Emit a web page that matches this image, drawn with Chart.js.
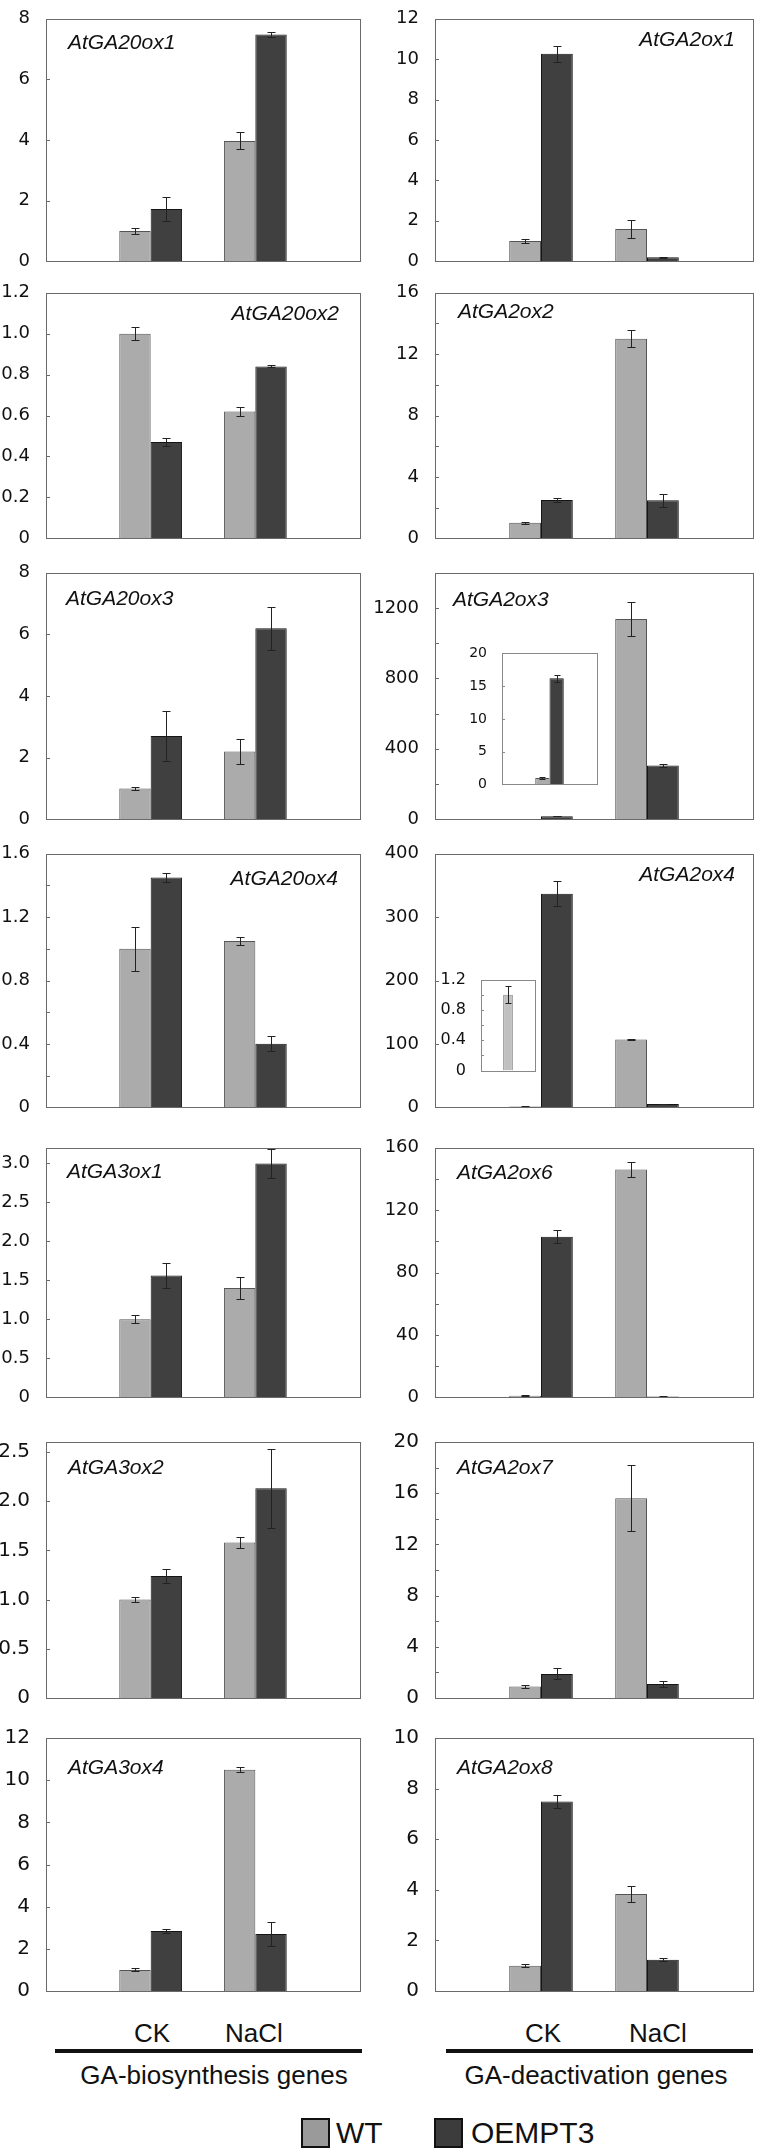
<!DOCTYPE html>
<html>
<head>
<meta charset="utf-8">
<script src="https://cdn.jsdelivr.net/npm/chart.js@4.4.0/dist/chart.umd.min.js"></script>
<style>
  html, body { margin: 0; padding: 0; background: #fff; }
  #page { position: relative; width: 761px; height: 2156px; overflow: hidden;
          font-family: "Liberation Sans", Arial, sans-serif; color: #111; }
  #page canvas { position: absolute; }
  .txt { position: absolute; white-space: nowrap; line-height: 1; text-align: center; }
  .rule { position: absolute; height: 4px; background: #111; }
  .key { position: absolute; width: 25px; height: 26px; border: 2px solid #111; }
</style>
</head>
<body>
<div id="page">
  <div class="txt" style="left:102px; top:2020px; width:100px; font-size:26px;">CK</div>
  <div class="txt" style="left:204px; top:2020px; width:100px; font-size:26px;">NaCl</div>
  <div class="txt" style="left:493px; top:2020px; width:100px; font-size:26px;">CK</div>
  <div class="txt" style="left:608px; top:2020px; width:100px; font-size:26px;">NaCl</div>
  <div class="rule" style="left:55px; top:2049px; width:307px;"></div>
  <div class="rule" style="left:446px; top:2049px; width:307px;"></div>
  <div class="txt" style="left:64px; top:2062px; width:300px; font-size:26px;">GA-biosynthesis genes</div>
  <div class="txt" style="left:446px; top:2062px; width:300px; font-size:26px;">GA-deactivation genes</div>
  <div class="key" style="left:301px; top:2118px; background:#9a9a9a;"></div>
  <div class="txt" style="left:336px; top:2118px; font-size:30px; text-align:left;">WT</div>
  <div class="key" style="left:434px; top:2118px; background:#3c3c3c;"></div>
  <div class="txt" style="left:471px; top:2118px; font-size:30px; text-align:left;">OEMPT3</div>
</div>
<script>
// values (relative expression, mean and error)
const categories = ['CK', 'NaCl'];
const seriesNames = ['WT', 'OEMPT3'];
const genes = ['AtGA20ox1', 'AtGA2ox1', 'AtGA20ox2', 'AtGA2ox2', 'AtGA20ox3', 'AtGA2ox3', 'AtGA20ox4',
               'AtGA2ox4', 'AtGA3ox1', 'AtGA2ox6', 'AtGA3ox2', 'AtGA2ox7', 'AtGA3ox4', 'AtGA2ox8'];
const wtMean = [[1.0, 3.97], [1.0, 1.6], [1.0, 0.62], [1.0, 13.0], [1.0, 2.2], [1.0, 1137], [1.0, 1.05],
                [1.0, 107], [1.0, 1.4], [1.0, 146], [1.0, 1.58], [0.9, 15.6], [1.0, 10.5], [1.0, 3.83]];
const wtErr = [[0.09, 0.28], [0.1, 0.43], [0.033, 0.023], [0.05, 0.55], [0.05, 0.41], [0.15, 95], [0.14, 0.026],
               [0.11, 1], [0.05, 0.145], [0.3, 4.6], [0.025, 0.06], [0.1, 2.57], [0.07, 0.13], [0.05, 0.32]];
const oeMean = [[1.72, 7.48], [10.27, 0.19], [0.47, 0.84], [2.49, 2.48], [2.7, 6.2], [16.2, 305], [1.45, 0.40],
                [337, 5], [1.56, 3.0], [103, 0.5], [1.24, 2.13], [1.88, 1.1], [2.84, 2.7], [7.49, 1.24]];
const oeErr = [[0.4, 0.08], [0.4, 0.03], [0.02, 0.005], [0.12, 0.43], [0.8, 0.7], [0.5, 11], [0.03, 0.047],
               [20, 0.5], [0.16, 0.185], [4.2, 0.3], [0.07, 0.4], [0.43, 0.22], [0.09, 0.56], [0.24, 0.06]];
const yMax = [8, 12, 1.2, 16, 8, 1400, 1.6, 400, 3.2, 160, 2.6, 20, 12, 10];
const yLabelStep = [2, 2, 0.2, 4, 2, 400, 0.4, 100, 0.5, 40, 0.5, 4, 2, 2];
const yTickStep = [2, 2, 0.2, 2, 2, 200, 0.2, 100, 0.5, 20, 0.5, 2, 2, 2];

// insets (CK only, zoomed scale)
const insetPanels = [5, 7];
const insetMax = [20, 1.2];
const insetLabelStep = [5, 0.4];
const insetTickStep = [5, 0.2];
const insetShowOE = [true, false];

// layout
const canvasX = [0, 370];
const canvasW = [380, 391];
const plotLeft = [46, 435];
const plotRight = [360, 753];
const rowTop = [14, 288, 568, 849, 1143, 1436, 1732];
const rowBottom = [270, 547, 828, 1116, 1406, 1708, 2001];
const labelAlign = ['left', 'right', 'right', 'left', 'left', 'left', 'right', 'right', 'left', 'left', 'left', 'left', 'left', 'left'];
const labelDx = [22, 18, 21, 23, 20, 18, 22, 18, 21, 22, 22, 22, 22, 22];
const labelDy = [24, 21, 21, 19, 26, 27, 25, 21, 24, 25, 26, 26, 30, 30];
const insetBox = [[502, 648, 597, 790], [481, 973, 535, 1077]];

const WT_FILL = '#ababab', WT_EDGE = '#555555';
const OE_FILL = '#404040', OE_EDGE = '#151515';

const page = document.getElementById('page');

function addCanvas(left, top, w, h) {
    const c = document.createElement('canvas');
    c.width = w;
    c.height = h;
    c.style.left = left + 'px';
    c.style.top = top + 'px';
    c.style.width = w + 'px';
    c.style.height = h + 'px';
    page.appendChild(c);
    return c;
}

function tickValues(max, step) {
    const out = [];
    const n = Math.round(max / step);
    for (let k = 0; k <= n; k++) out.push(+(k * step).toFixed(6));
    return out;
}

function fmtTick(v, labelStep) {
    const r = v / labelStep;
    if (Math.abs(r - Math.round(r)) > 1e-6) return '';
    if (v === 0) return '0';
    return labelStep < 1 ? v.toFixed(1) : String(v);
}

// box, inner tick marks, error bars and gene name
const panelDeco = {
    id: 'panelDeco',
    afterDatasetsDraw(chart, args, opts) {
        const ctx = chart.ctx;
        const y = chart.scales.y;
        ctx.save();
        ctx.strokeStyle = '#222';
        ctx.lineWidth = 1;
        chart.data.datasets.forEach((ds, di) => {
            const meta = chart.getDatasetMeta(di);
            meta.data.forEach((bar, i) => {
                const v = ds.data[i];
                const e = ds.errors ? ds.errors[i] : null;
                if (v == null || e == null) return;
                const x = Math.round(bar.x) + 0.5;
                const t = Math.round(y.getPixelForValue(v + e)) + 0.5;
                const b = Math.round(y.getPixelForValue(Math.max(v - e, 0))) + 0.5;
                const cap = opts.cap || 4;
                ctx.beginPath();
                ctx.moveTo(x, t); ctx.lineTo(x, b);
                ctx.moveTo(x - cap, t); ctx.lineTo(x + cap, t);
                ctx.moveTo(x - cap, b); ctx.lineTo(x + cap, b);
                ctx.stroke();
            });
        });
        ctx.restore();
    },
    afterDraw(chart, args, opts) {
        const ctx = chart.ctx;
        const a = chart.chartArea;
        const y = chart.scales.y;
        ctx.save();
        ctx.strokeStyle = opts.boxColor || '#6a6a6a';
        ctx.lineWidth = 1;
        ctx.strokeRect(Math.round(a.left) + 0.5, Math.round(a.top) + 0.5,
                       Math.round(a.right - a.left), Math.round(a.bottom - a.top));
        if (opts.tickLen) {
            ctx.beginPath();
            y.ticks.forEach(t => {
                if (t.value <= 0 || t.value >= y.max) return;
                const py = Math.round(y.getPixelForValue(t.value)) + 0.5;
                ctx.moveTo(a.left, py);
                ctx.lineTo(a.left + opts.tickLen, py);
            });
            ctx.stroke();
        }
        if (opts.text) {
            ctx.fillStyle = '#111';
            ctx.font = 'italic 21px "Liberation Sans", Arial, sans-serif';
            ctx.textBaseline = 'middle';
            ctx.textAlign = opts.align;
            const x = opts.align === 'left' ? a.left + opts.dx : a.right - opts.dx;
            ctx.fillText(opts.text, x, a.top + opts.dy);
        }
        ctx.restore();
    }
};

function yScale(max, tickStep, labelStep, fontSize, axw, pad) {
    return {
        min: 0,
        max: max,
        afterFit: s => { s.width = axw; },
        afterBuildTicks: s => { s.ticks = tickValues(max, tickStep).map(v => ({ value: v })); },
        grid: { display: false },
        border: { display: false },
        ticks: {
            autoSkip: false,
            padding: pad,
            color: '#111',
            font: { family: 'DejaVu Sans', size: fontSize },
            callback: v => fmtTick(v, labelStep)
        }
    };
}

function mainPanel(i) {
    const row = Math.floor(i / 2), col = i % 2;
    const top = rowTop[row] - 14;
    const h = rowBottom[row] - rowTop[row] + 24;
    const cv = addCanvas(canvasX[col], top, canvasW[col], h);
    const fs = row >= 5 ? 20 : 18;
    const axw = plotLeft[col] - canvasX[col];
    new Chart(cv, {
        type: 'bar',
        data: {
            labels: ['', ...categories, ''],
            datasets: [
                { label: seriesNames[0], data: [null, ...wtMean[i], null], errors: [null, ...wtErr[i], null],
                  backgroundColor: WT_FILL, borderColor: WT_EDGE, borderWidth: 1,
                  categoryPercentage: 0.6, barPercentage: 1.0 },
                { label: seriesNames[1], data: [null, ...oeMean[i], null], errors: [null, ...oeErr[i], null],
                  backgroundColor: OE_FILL, borderColor: OE_EDGE, borderWidth: 1,
                  categoryPercentage: 0.6, barPercentage: 1.0 }
            ]
        },
        options: {
            responsive: false,
            animation: false,
            devicePixelRatio: 1,
            layout: { padding: { top: 14, bottom: 10, left: 0,
                                 right: canvasX[col] + canvasW[col] - plotRight[col] } },
            scales: {
                x: { type: 'category', offset: false, display: false, grid: { display: false } },
                y: yScale(yMax[i], yTickStep[i], yLabelStep[i], fs, axw, 8)
            },
            plugins: {
                legend: { display: false },
                tooltip: { enabled: false },
                panelDeco: { text: genes[i], align: labelAlign[i], dx: labelDx[i], dy: labelDy[i],
                             tickLen: 4, cap: 4 }
            }
        },
        plugins: [panelDeco]
    });
}

function insetPanel(k) {
    const i = insetPanels[k];
    const [bl, bt, br, bb] = insetBox[k];
    const axw = k === 0 ? 40 : 44;
    const cLeft = bl - axw;
    const cTop = bt - 10;
    const cv = addCanvas(cLeft, cTop, br - cLeft + 5, bb - bt + 20);
    const datasets = [
        { label: seriesNames[0], data: [wtMean[i][0]], errors: [wtErr[i][0]],
          backgroundColor: insetShowOE[k] ? WT_FILL : '#c0c0c0', borderColor: insetShowOE[k] ? WT_EDGE : '#8a8a8a',
          borderWidth: 1, categoryPercentage: insetShowOE[k] ? 0.3 : 0.18, barPercentage: 1.0 }
    ];
    if (insetShowOE[k]) {
        datasets.push({ label: seriesNames[1], data: [oeMean[i][0]], errors: [oeErr[i][0]],
                        backgroundColor: OE_FILL, borderColor: OE_EDGE, borderWidth: 1,
                        categoryPercentage: 0.3, barPercentage: 1.0 });
    }
    new Chart(cv, {
        type: 'bar',
        data: { labels: [categories[0]], datasets: datasets },
        options: {
            responsive: false,
            animation: false,
            devicePixelRatio: 1,
            layout: { padding: { top: 10, bottom: 10, left: 0, right: 5 } },
            scales: {
                x: { type: 'category', display: false, grid: { display: false } },
                y: yScale(insetMax[k], insetTickStep[k], insetLabelStep[k], k === 0 ? 14 : 16, axw, 7)
            },
            plugins: {
                legend: { display: false },
                tooltip: { enabled: false },
                panelDeco: { boxColor: '#888', tickLen: 3, cap: 3 }
            }
        },
        plugins: [panelDeco]
    });
}

for (let i = 0; i < genes.length; i++) mainPanel(i);
for (let k = 0; k < insetPanels.length; k++) insetPanel(k);
</script>
</body>
</html>
